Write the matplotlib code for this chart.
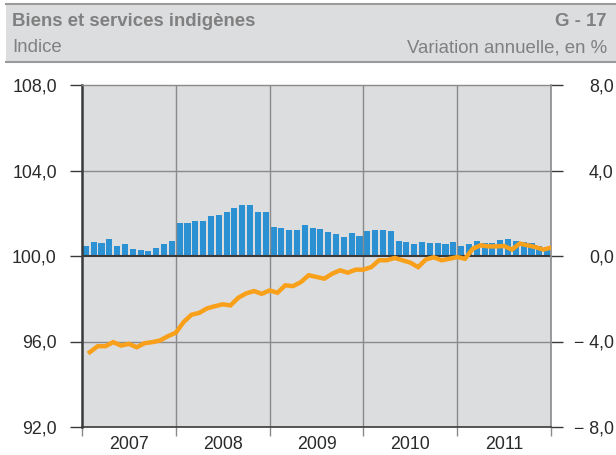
import numpy as np
import matplotlib
matplotlib.use('Agg')
import matplotlib.pyplot as plt
from matplotlib.patches import Rectangle
from matplotlib.lines import Line2D
from matplotlib.ticker import MultipleLocator, FixedLocator

plt.rcParams['font.family'] = ['Liberation Sans', 'DejaVu Sans']

# Data
years = ['2007', '2008', '2009', '2010', '2011']

# Annual change in % (bars, right axis), monthly
variation = [
    0.47, 0.66, 0.61, 0.80, 0.47, 0.56, 0.33, 0.28, 0.23, 0.38, 0.56, 0.70,
    1.55, 1.55, 1.64, 1.64, 1.88, 1.92, 2.06, 2.25, 2.39, 2.39, 2.06, 2.06,
    1.36, 1.31, 1.22, 1.22, 1.45, 1.31, 1.27, 1.13, 1.03, 0.89, 1.08, 0.94,
    1.17, 1.22, 1.22, 1.17, 0.70, 0.66, 0.56, 0.66, 0.61, 0.61, 0.56, 0.66,
    0.47, 0.56, 0.70, 0.60, 0.62, 0.75, 0.80, 0.70, 0.64, 0.59, 0.45, 0.30,
]

# Index (line, left axis), monthly
indice = [
    95.50, 95.78, 95.78, 95.97, 95.81, 95.89, 95.73, 95.92, 95.97, 96.05, 96.25, 96.41,
    96.91, 97.25, 97.34, 97.55, 97.65, 97.74, 97.69, 98.05, 98.25, 98.36, 98.23, 98.39,
    98.28, 98.63, 98.59, 98.78, 99.10, 99.02, 98.94, 99.17, 99.33, 99.22, 99.36, 99.36,
    99.48, 99.80, 99.80, 99.91, 99.80, 99.69, 99.48, 99.84, 99.94, 99.80, 99.87, 99.95,
    99.87, 100.34, 100.50, 100.45, 100.45, 100.47, 100.30, 100.58, 100.50, 100.42, 100.30, 100.39,
]

left_ticks = [92, 96, 100, 104, 108]
right_ticks = [-8, -4, 0, 4, 8]

BG = '#dcdddf'
BLUE = '#2b91d3'
ORANGE = '#f9a01b'
GRID = '#8a8a8a'
DARK = '#3a3a3a'
HEAD = '#808080'
TICK_FS = 12.8
HEAD_FS = 13.4


def fmt_num(v):
    s = f'{abs(v):.1f}'.replace('.', ',')
    return ('\u2212 ' + s) if v < 0 else s


def main():
    months = np.arange(len(indice))

    fig = plt.figure(figsize=(6.16, 4.55), dpi=100)
    fig.patch.set_facecolor('white')

    # Header band
    fig.add_artist(Rectangle((6 / 616, 393 / 455), 1 - 6 / 616, 58 / 455,
                             transform=fig.transFigure, facecolor=BG, edgecolor='none'))
    for yy in (451 / 455, 393 / 455):
        fig.add_artist(Line2D([6 / 616, 1], [yy, yy], transform=fig.transFigure,
                              color='#9a9a9a', lw=1.5))
    fig.text(12 / 616, 434 / 455, 'Biens et services indigènes', fontsize=HEAD_FS,
             fontweight='bold', color=HEAD, va='center', ha='left')
    fig.text(607 / 616, 434 / 455, 'G - 17', fontsize=HEAD_FS,
             fontweight='bold', color=HEAD, va='center', ha='right')
    fig.text(12 / 616, 407 / 455, 'Indice', fontsize=HEAD_FS, color=HEAD,
             va='center', ha='left')
    fig.text(607 / 616, 407 / 455, 'Variation annuelle, en %', fontsize=HEAD_FS,
             color=HEAD, va='center', ha='right')

    ax = fig.add_axes([82 / 616, 28 / 455, 469 / 616, 342 / 455])
    ax2 = ax.twinx()
    ax.set_zorder(ax2.get_zorder() + 1)
    ax.patch.set_visible(False)
    ax2.patch.set_visible(True)
    ax2.patch.set_facecolor(BG)

    # Bars: annual variation
    ax2.bar(months + 0.5, variation, width=0.78, color=BLUE, zorder=2)
    ax2.set_ylim(-8, 8)
    ax2.set_yticks(right_ticks)
    ax2.set_yticklabels([fmt_num(v) for v in right_ticks])
    ax2.tick_params(axis='y', direction='out', length=8.6, width=1, color=DARK,
                    pad=36.5, labelsize=TICK_FS, labelcolor='#2a2a2a')
    for lbl in ax2.get_yticklabels():
        lbl.set_horizontalalignment('right')
    for s in ax2.spines.values():
        s.set_visible(False)

    # Line: index
    ax.plot(months + 1, indice, color=ORANGE, lw=3.2, solid_joinstyle='miter', zorder=3)
    ax.set_ylim(92, 108)
    ax.set_xlim(0, len(indice))
    ax.set_yticks(left_ticks)
    ax.set_yticklabels([fmt_num(v) for v in left_ticks])
    ax.tick_params(axis='y', direction='out', length=8.6, width=1, color=DARK,
                   pad=9.5, labelsize=TICK_FS, labelcolor='#2a2a2a')

    ax.xaxis.set_major_locator(MultipleLocator(12))
    ax.xaxis.set_minor_locator(FixedLocator([6 + 12 * k for k in range(len(years))]))
    ax.set_xticklabels([], minor=False)
    ax.set_xticklabels(years, minor=True)
    ax.tick_params(axis='x', which='major', direction='out', length=6.5, width=1,
                   color=GRID)
    ax.tick_params(axis='x', which='minor', length=0, pad=6.5, labelsize=TICK_FS,
                   labelcolor='#2a2a2a')

    # Grid
    for yv in (96, 104):
        ax.axhline(yv, color=GRID, lw=1, zorder=1)
    for xv in (12, 24, 36, 48):
        ax.axvline(xv, color=GRID, lw=1, zorder=1)
    ax.axhline(100, color=DARK, lw=1.5, zorder=2.5)

    ax.spines['left'].set_color(DARK)
    ax.spines['left'].set_linewidth(1.8)
    ax.spines['bottom'].set_color(DARK)
    ax.spines['bottom'].set_linewidth(1.2)
    ax.spines['top'].set_color(GRID)
    ax.spines['top'].set_linewidth(1)
    ax.spines['right'].set_color(GRID)
    ax.spines['right'].set_linewidth(1.2)

    fig.savefig('out.png', dpi=100, facecolor='white')


if __name__ == '__main__':
    main()
